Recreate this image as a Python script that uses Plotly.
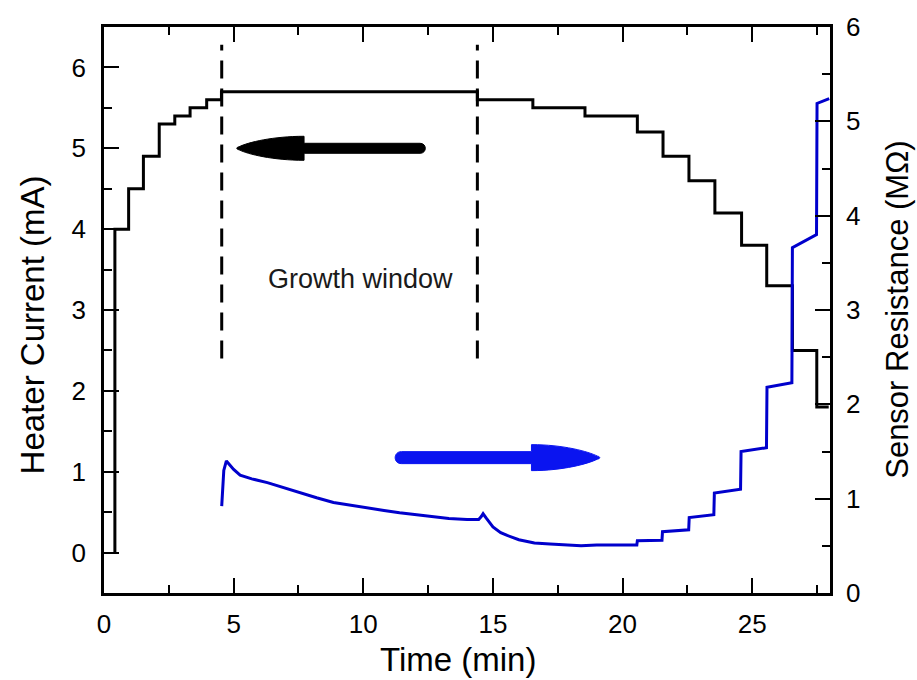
import plotly.graph_objects as go

# ---------------- data ----------------
# Heater current (mA), step profile: change times (min) and levels
heater_t = [0.42, 0.42, 0.95, 1.52, 2.13, 2.73, 3.32, 3.96, 4.53, 14.40, 16.54,
            18.55, 20.57, 21.56, 22.56, 23.56, 24.59, 25.56, 26.55, 27.49, 27.95]
heater_mA = [0.0, 4.0, 4.5, 4.9, 5.3, 5.4, 5.5, 5.6, 5.7, 5.6, 5.5,
             5.4, 5.2, 4.9, 4.6, 4.2, 3.8, 3.3, 2.5, 1.8, 1.8]

# Sensor resistance (MOhm)
sensor_t = [4.54, 4.56, 4.62, 4.72, 4.85, 5.00, 5.25, 5.70, 6.30, 7.00, 7.60, 8.20,
            8.85, 9.50, 10.10, 10.80, 11.40, 12.00, 12.70, 13.30, 14.00, 14.45,
            14.55, 14.62, 14.75, 15.00, 15.30, 15.55, 16.00, 16.60, 17.20, 17.90,
            18.40, 19.00, 19.70, 20.55, 20.57, 21.52, 21.54, 22.55, 22.57, 23.52,
            23.54, 24.55, 24.57, 25.55, 25.57, 26.53, 26.55, 27.48, 27.50, 27.97]
sensor_MOhm = [0.92, 1.05, 1.30, 1.40, 1.36, 1.31, 1.25, 1.21, 1.17, 1.11, 1.06, 1.01,
               0.96, 0.93, 0.90, 0.875, 0.85, 0.83, 0.81, 0.79, 0.78, 0.78,
               0.81, 0.84, 0.79, 0.70, 0.64, 0.61, 0.565, 0.53, 0.52, 0.51,
               0.50, 0.51, 0.51, 0.51, 0.555, 0.56, 0.65, 0.67, 0.80, 0.83,
               1.06, 1.10, 1.50, 1.54, 2.18, 2.23, 3.66, 3.80, 5.19, 5.24]

growth_window = [4.54, 14.40]          # min
dash_span = [2.4, 6.28]                # heater-axis units
growth_label = "Growth window"
growth_label_pos = (9.88, 3.38)

x_ticks = [0, 5, 10, 15, 20, 25]
y_left_ticks = [0, 1, 2, 3, 4, 5, 6]
y_right_ticks = [0, 1, 2, 3, 4, 5, 6]

# arrows: tip position (data) and pixel geometry
black_arrow = dict(tip=(5.17, 5.0), direction=-1, length=187, head_len=66, head_half=12, shaft_half=5)
blue_arrow = dict(tip=(19.07, 1.435), direction=1, length=203, head_len=67, head_half=13, shaft_half=6)

FONT = "Liberation Sans, Arial, sans-serif"
BLUE_LINE = "#0000cc"
BLUE_ARROW = "#0a14f0"


def arrow_path(length, head_len, head_half, shaft_half, direction):
    d = -direction  # body lies opposite to pointing direction
    L, h, s, T = head_len, head_half, shaft_half, length
    r = shaft_half
    pts = [
        f"M {d*1},1.5",
        f"C {d*10},{6} {d*35},{h} {d*L},{h}",
        f"L {d*L},{s}",
        f"L {d*(T-r)},{s}",
        f"C {d*(T+r*0.4)},{s} {d*(T+r*0.4)},{-s} {d*(T-r)},{-s}",
        f"L {d*L},{-s}",
        f"L {d*L},{-h}",
        f"C {d*35},{-h} {d*10},{-6} {d*1},-1.5",
        f"C {d*-2},-1 {d*-2},1 {d*1},1.5 Z",
    ]
    return " ".join(pts)


fig = go.Figure()

fig.add_trace(go.Scatter(
    x=heater_t, y=heater_mA, mode="lines", line=dict(color="black", width=3, shape="hv"),
    yaxis="y", showlegend=False, hoverinfo="skip"))

fig.add_trace(go.Scatter(
    x=sensor_t, y=sensor_MOhm, mode="lines", line=dict(color=BLUE_LINE, width=3),
    yaxis="y2", showlegend=False, hoverinfo="skip"))

shapes = []
for xw in growth_window:
    shapes.append(dict(type="line", xref="x", yref="y", x0=xw, x1=xw, y0=dash_span[0], y1=dash_span[1],
                       line=dict(color="black", width=3, dash="18px,10px")))

for arr, col, yref in [(black_arrow, "black", "y"), (blue_arrow, BLUE_ARROW, "y2")]:
    shapes.append(dict(type="path", xref="x", yref=yref, xsizemode="pixel", ysizemode="pixel",
                       xanchor=arr["tip"][0], yanchor=arr["tip"][1],
                       path=arrow_path(arr["length"], arr["head_len"], arr["head_half"],
                                       arr["shaft_half"], arr["direction"]),
                       fillcolor=col, line=dict(color=col, width=1)))

axis_common = dict(showline=True, linecolor="black", linewidth=2.5, ticks="inside", ticklen=15,
                   tickwidth=2, tickcolor="black", showgrid=False, zeroline=False,
                   tickfont=dict(family=FONT, size=26, color="black"))

fig.update_layout(
    width=917, height=680,
    margin=dict(l=104, r=87, t=20, b=87),
    paper_bgcolor="white", plot_bgcolor="white",
    shapes=shapes,
    xaxis=dict(range=[0, 28], tickvals=x_ticks, mirror="ticks",
               minor=dict(ticks="inside", ticklen=8, tickwidth=2, tickcolor="black", dtick=2.5, tick0=0),
               ticklabelstandoff=6, **axis_common),
    yaxis=dict(range=[-0.5, 6.5], tickvals=y_left_ticks,
               minor=dict(ticks="inside", ticklen=8, tickwidth=2, tickcolor="black", dtick=0.5, tick0=0),
               ticklabelstandoff=10, **axis_common),
    yaxis2=dict(range=[0, 6], tickvals=y_right_ticks, overlaying="y", side="right",
                minor=dict(ticks="inside", ticklen=8, tickwidth=2, tickcolor="black", dtick=0.5, tick0=0),
                ticklabelstandoff=8, **axis_common),
    annotations=[
        dict(text=growth_label, x=growth_label_pos[0], y=growth_label_pos[1], xref="x", yref="y",
             showarrow=False, font=dict(family=FONT, size=27, color="#1a1a1a")),
        dict(text="Time (min)", x=0.4876, y=-0.117, xref="paper", yref="paper", showarrow=False,
             font=dict(family=FONT, size=33, color="black"), xanchor="center", yanchor="middle"),
        dict(text="Heater Current (mA)", x=-0.099, y=0.473, xref="paper", yref="paper", showarrow=False,
             textangle=-90, font=dict(family=FONT, size=33, color="black"), xanchor="center", yanchor="middle"),
        dict(text="Sensor Resistance (MΩ)", x=1.092, y=0.5, xref="paper", yref="paper", showarrow=False,
             textangle=-90, font=dict(family=FONT, size=31, color="black"), xanchor="center", yanchor="middle"),
    ],
)

fig.write_html("out.html")
